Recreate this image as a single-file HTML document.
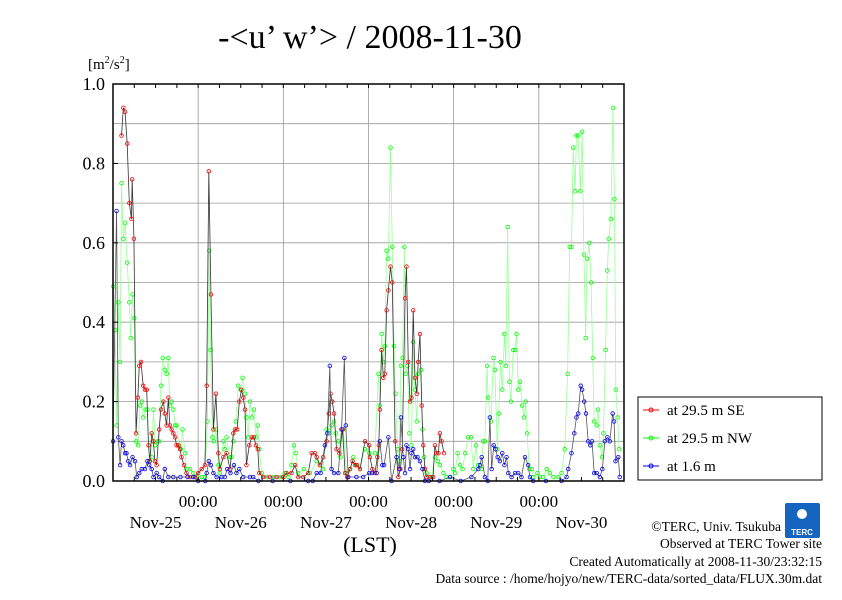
<!DOCTYPE html>
<html><head><meta charset="utf-8"><style>
body{margin:0;background:#fff;width:842px;height:595px;overflow:hidden}
svg{font-family:"Liberation Serif",serif}
</style></head><body>
<svg id="chart" width="842" height="595" xmlns="http://www.w3.org/2000/svg">
<text x="370" y="48" font-size="34" text-anchor="middle">-&lt;u’ w’&gt; / 2008-11-30</text>
<text x="88" y="69" font-size="15">[m<tspan font-size="10" dy="-6">2</tspan><tspan dy="6">/s</tspan><tspan font-size="10" dy="-6">2</tspan><tspan dy="6">]</tspan></text>
<g id="grid"></g>
<g id="series"></g>
<rect x="113" y="84" width="511" height="397" fill="none" stroke="#000" stroke-width="1.5"/>
<g id="axes"></g>
<text x="370" y="552" font-size="22" text-anchor="middle">(LST)</text>
<g>
<rect x="638" y="397" width="184" height="83" fill="#fff" stroke="#000" stroke-width="1"/>
<g><line x1="643" y1="410" x2="659" y2="410" stroke="#f00"/><circle cx="651" cy="410" r="2" fill="none" stroke="#f00"/><text x="667" y="415" font-size="15">at 29.5 m SE</text></g>
<g><line x1="643" y1="438" x2="659" y2="438" stroke="#0f0"/><circle cx="651" cy="438" r="2" fill="none" stroke="#0f0"/><text x="667" y="443" font-size="15">at 29.5 m NW</text></g>
<g><line x1="643" y1="466" x2="659" y2="466" stroke="#00f"/><circle cx="651" cy="466" r="2" fill="none" stroke="#00f"/><text x="667" y="471" font-size="15">at 1.6 m</text></g>
</g>
<g>
<rect x="785" y="503" width="35" height="35" rx="2" fill="#1565c0"/>
<circle cx="802" cy="514" r="5" fill="#fff"/>
<text x="802" y="535" font-size="8" fill="#fff" text-anchor="middle" font-family="Liberation Sans, sans-serif" font-weight="bold">TERC</text>
</g>
<g font-size="13.5" text-anchor="end">
<text x="781" y="531">©TERC, Univ. Tsukuba</text>
<text x="822" y="548">Observed at TERC Tower site</text>
<text x="822" y="566">Created Automatically at 2008-11-30/23:32:15</text>
<text x="822" y="583">Data source : /home/hojyo/new/TERC-data/sorted_data/FLUX.30m.dat</text>
</g>
</svg>
<script>
const yTicks=[0.0,0.2,0.4,0.6,0.8,1.0];
const yTickLabels=["0.0","0.2","0.4","0.6","0.8","1.0"];
const dayLabels=["Nov-25","Nov-26","Nov-27","Nov-28","Nov-29","Nov-30"];
const midnightLabels=["00:00","00:00","00:00","00:00","00:00"];
const seT=[2.4,2.9,3.4,4.0,4.6,5.2,5.4,5.9,6.5,7.0,7.4,7.9,8.5,9.0,9.5,10.0,10.4,10.9,11.4,11.8,12.3,13.0,13.5,14.2,14.6,15.1,15.6,16.0,16.5,17.0,17.5,17.9,18.4,18.9,19.3,20.0,20.7,21.7,23.1,24.0,25.0,25.9,26.4,27.0,27.6,28.3,29.0,29.7,30.1,31.1,32.0,33.0,33.9,34.4,35.0,35.6,36.2,36.7,37.2,37.6,38.4,39.1,39.7,40.3,40.8,41.2,42.3,44.2,46.1,48.0,48.9,50.3,51.3,52.2,53.6,55.0,56.0,56.9,57.4,58.3,59.2,60.2,60.8,61.3,61.8,62.3,63.0,63.8,64.7,65.4,66.0,66.8,67.5,68.2,68.8,69.6,71.0,72.2,72.4,73.1,73.8,74.5,74.9,75.2,75.7,76.2,76.6,77.1,77.6,78.2,78.7,79.5,80.4,81.0,81.5,82.3,82.7,83.2,83.7,84.1,84.6,85.1,85.6,86.0,86.5,87.0,87.4,87.9,88.4,89.3,90.2,90.7,91.2,91.7,92.1,92.6,93.3];
const seV=[.87,.94,.93,.85,.70,.66,.76,.61,.12,.21,.29,.30,.24,.23,.23,.09,.05,.12,.10,.05,.04,.13,.18,.20,.17,.14,.21,.14,.13,.12,.11,.09,.09,.08,.06,.04,.02,.01,.01,.02,.03,.04,.24,.78,.47,.13,.22,.07,.03,.06,.07,.03,.12,.13,.13,.20,.23,.21,.18,.04,.09,.11,.11,.09,.08,.02,.01,.01,.01,.01,.02,.02,.04,.01,.01,.02,.07,.07,.06,.04,.06,.10,.17,.22,.20,.17,.08,.07,.13,.02,.01,.03,.05,.04,.04,.03,.10,.09,.06,.03,.02,.06,.09,.18,.33,.26,.27,.43,.48,.54,.50,.10,.01,.03,.08,.46,.54,.30,.20,.21,.43,.26,.22,.30,.37,.19,.09,.03,.01,.01,.01,.09,.07,.07,.12,.10,.07];
const nwT=[0.1,0.6,1.0,1.5,2.0,2.4,2.9,3.4,4.0,4.6,5.0,5.5,6.0,6.5,7.1,7.6,8.1,8.5,9.2,9.7,10.2,10.9,11.4,11.9,12.6,13.0,13.5,14.0,14.6,15.1,15.6,16.0,16.5,17.0,17.5,17.9,18.6,19.1,19.6,20.3,20.7,21.7,22.6,23.6,25.0,25.9,26.6,27.1,27.5,28.0,28.4,29.0,29.7,30.1,31.1,31.5,32.0,33.0,33.4,33.9,34.6,35.3,36.0,36.5,37.2,37.6,38.1,38.6,39.1,39.7,40.3,40.8,41.2,41.9,43.3,45.2,47.0,48.4,49.4,50.3,51.0,51.5,52.2,53.8,55.5,57.4,58.3,59.2,60.2,60.9,61.6,62.3,62.8,63.5,64.1,64.9,65.8,66.8,67.7,68.6,69.6,71.0,72.2,73.8,74.8,75.2,75.7,76.2,76.6,77.1,77.6,78.2,78.7,79.2,79.6,80.2,80.7,81.1,81.6,82.1,82.5,83.0,83.5,84.1,84.6,85.1,85.6,86.0,86.8,87.2,87.7,88.4,89.8,90.7,91.5,92.1,93.1,94.0,94.9,95.9,96.4,97.1,97.8,98.5,99.2,100.1,100.9,101.5,102.3,102.9,103.9,104.3,104.8,105.4,105.7,106.5,107.2,107.6,108.3,108.7,109.2,109.7,110.3,110.7,111.2,111.7,112.1,112.8,113.3,113.7,114.2,114.7,115.3,115.8,116.3,116.7,117.3,118.0,118.4,119.6,120.3,121.2,122.2,123.1,124.1,125.5,126.4,127.3,128.1,128.7,129.2,129.7,130.2,130.6,131.1,131.7,132.2,132.7,133.2,133.6,134.2,134.7,135.2,135.6,136.3,136.7,137.2,137.8,138.2,138.8,139.3,139.7,140.3,140.9,141.3,141.7,142.2,142.6];
const nwV=[.49,.38,.14,.45,.30,.75,.61,.65,.55,.45,.36,.47,.41,.10,.09,.19,.20,.16,.18,.18,.05,.06,.18,.09,.10,.10,.24,.31,.28,.27,.31,.19,.20,.18,.14,.14,.09,.08,.13,.07,.03,.03,.02,.01,.01,.01,.15,.58,.33,.11,.10,.13,.04,.02,.10,.08,.11,.06,.06,.10,.15,.24,.23,.26,.22,.16,.11,.20,.16,.18,.11,.14,.08,.02,.01,.01,.01,.02,.01,.04,.09,.07,.02,.03,.02,.05,.04,.03,.13,.12,.14,.15,.12,.10,.06,.13,.02,.03,.06,.04,.03,.08,.07,.07,.27,.19,.37,.30,.34,.58,.56,.84,.59,.34,.22,.08,.05,.29,.31,.59,.27,.29,.12,.09,.35,.23,.15,.27,.28,.13,.06,.02,.01,.06,.05,.04,.02,.01,.01,.03,.02,.07,.04,.03,.07,.11,.11,.03,.09,.04,.03,.10,.10,.29,.21,.15,.31,.28,.08,.17,.30,.23,.37,.29,.64,.25,.20,.33,.33,.37,.23,.25,.19,.16,.20,.12,.03,.03,.01,.02,.01,.01,.03,.02,.01,.01,.02,.08,.27,.59,.59,.84,.73,.87,.87,.73,.88,.57,.36,.56,.60,.50,.31,.15,.14,.18,.09,.06,.12,.33,.53,.61,.66,.94,.71,.23,.16,.08];
const lowT=[0.0,1.0,1.5,2.0,2.4,2.9,3.4,3.8,4.3,4.8,5.5,6.2,6.7,7.4,8.1,9.0,9.7,10.2,10.9,11.4,12.3,13.0,14.0,14.6,15.6,17.0,19.0,21.0,22.6,24.0,26.0,26.4,27.0,27.6,28.3,29.2,30.6,31.5,32.2,33.1,34.1,34.8,35.6,36.7,38.6,39.5,41.0,45,50,55,56.3,57.4,58.5,59.7,60.4,61.1,61.6,62.3,63.5,64.4,65.2,65.6,66.3,68.6,70.5,72.2,73.0,74.3,75.2,75.9,76.4,77.6,78.5,79.9,80.7,81.1,81.8,82.3,82.7,83.2,83.7,84.1,84.6,85.1,85.8,86.5,87.2,87.9,89,92,95,98,101,102.9,103.4,103.9,104.8,105.6,106.2,106.7,107.3,107.8,108.4,109.0,109.7,110.3,110.9,111.4,112.3,113.3,114.2,115.1,116.1,117.0,117.5,118.4,122,126.4,127.8,128.3,129.2,130.0,130.6,131.1,131.8,132.2,132.8,133.3,133.9,134.5,135.0,135.6,136.3,137.2,137.9,138.6,139.3,140.0,140.8,141.2,141.6,142.4,142.8];
const lowV=[.10,.68,.11,.04,.10,.09,.07,.07,.05,.04,.06,.05,.01,.02,.03,.03,.05,.04,.03,.01,.02,.01,0,.03,.01,.01,.01,.01,.01,0,0,.02,.05,.04,.02,.01,.01,.01,.03,.02,.04,.02,.03,.01,.01,.01,0,0,0,0,0,.02,.02,.09,.12,.29,.03,.02,.02,.13,.31,.14,.01,.01,.01,.02,.02,.02,.10,.04,.04,.11,0,.06,.03,.16,.06,.02,.09,.08,.03,.07,.08,.06,.06,.05,.03,0,0,0,.01,0,.01,.03,.04,.06,.01,0,.16,.03,.09,.08,.06,.05,.07,.04,.06,.02,.01,.02,.02,.01,.06,.04,.01,0,0,0,.01,.03,.07,.12,.16,.17,.24,.23,.20,.17,.10,.09,.10,.02,.02,.01,.03,.10,.11,.10,.17,.15,.05,.06,.01];

const X0=113,X1=624,Y0=481,Y1=84,HOURS=144;
function xs(h){return X0+(X1-X0)*h/HOURS;}
function ys(v){return Y0-(Y0-Y1)*v;}
const NS="http://www.w3.org/2000/svg";
function mk(tag,attrs,parent){const e=document.createElementNS(NS,tag);for(const k in attrs)e.setAttribute(k,attrs[k]);parent.appendChild(e);return e;}
const grid=document.getElementById('grid'),axes=document.getElementById('axes'),ser=document.getElementById('series');
for(let i=1;i<10;i++){const l=mk('line',{x1:X0,x2:X1,y1:ys(i/10),y2:ys(i/10),stroke:'#999','stroke-width':0.8},grid);

}
for(let d=1;d<6;d++){const l=mk('line',{x1:xs(d*24),x2:xs(d*24),y1:Y1,y2:Y0,stroke:'#999','stroke-width':0.8},grid);

}
for(let h=6;h<HOURS;h+=6){mk('line',{x1:xs(h),x2:xs(h),y1:Y0,y2:Y0-4,stroke:'#000'},axes);mk('line',{x1:xs(h),x2:xs(h),y1:Y1,y2:Y1+4,stroke:'#000'},axes);}
yTicks.forEach((v,i)=>{mk('line',{x1:X0,x2:X0+5,y1:ys(v),y2:ys(v),stroke:'#000'},axes);
const t=mk('text',{x:105,y:ys(v)+6,'font-size':18,'text-anchor':'end'},axes);t.textContent=yTickLabels[i];

});
midnightLabels.forEach((s,i)=>{const t=mk('text',{x:xs((i+1)*24),y:507,'font-size':17,'text-anchor':'middle'},axes);t.textContent=s;

});
dayLabels.forEach((s,i)=>{const t=mk('text',{x:xs(i*24+12),y:528,'font-size':17,'text-anchor':'middle'},axes);t.textContent=s;

});
function draw(T,V,color,lineColor,name){const g=mk('g',{},ser);


mk('polyline',{points:T.map((h,i)=>xs(h)+','+ys(V[i])).join(' '),fill:'none',stroke:lineColor,'stroke-width':0.8},g);
T.forEach((h,i)=>{const c=mk('circle',{cx:xs(h),cy:ys(V[i]),r:1.8,fill:'none',stroke:color,'stroke-width':0.8},g);

});}
draw(nwT,nwV,'#0f0','#9f9','series-29-5m-nw');
draw(seT,seV,'#f00','#333','series-29-5m-se');
draw(lowT,lowV,'#00f','#555','series-1-6m');
</script>
</body></html>
